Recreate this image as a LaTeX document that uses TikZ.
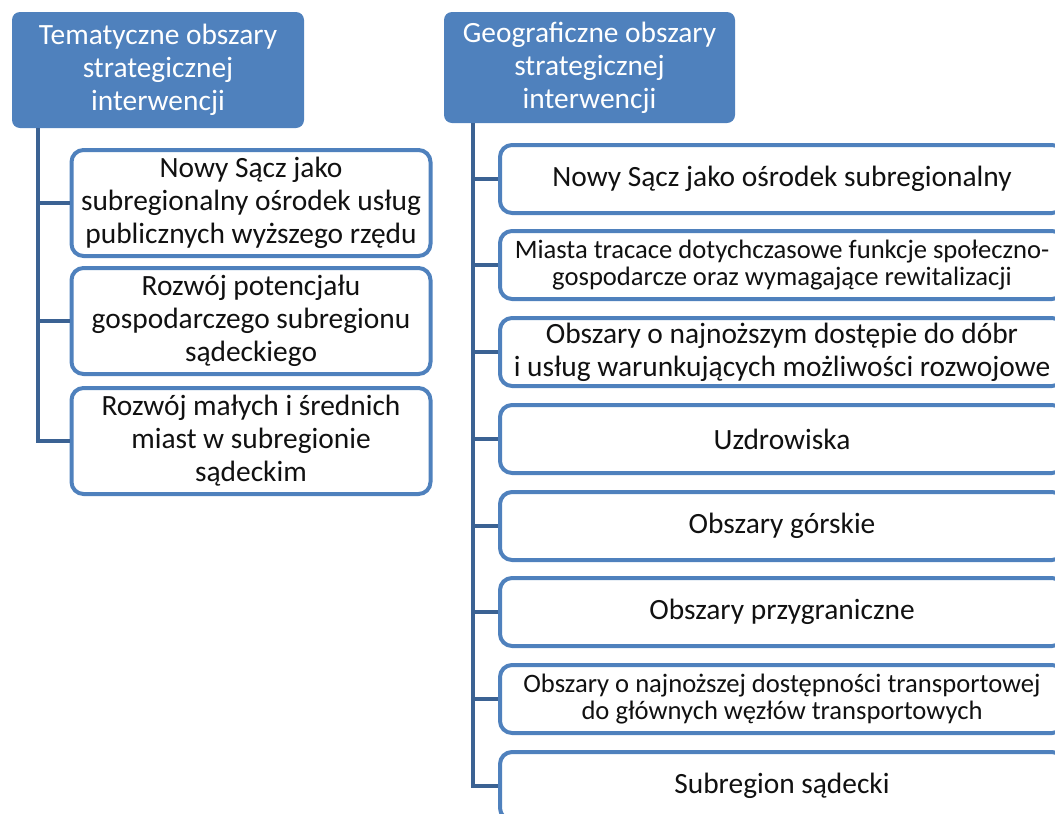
\documentclass[tikz,border=0pt]{standalone}
\usepackage{fontspec}
\setmainfont{Carlito}
\usepackage{tikz}
\usetikzlibrary{positioning,calc}
\definecolor{smblue}{HTML}{4F81BD}
\definecolor{smdark}{HTML}{3B6293}
\definecolor{smtext}{HTML}{111111}

\begin{document}
\begin{tikzpicture}[
  x=0.5pt,y=-0.5pt,
  head/.style={fill=smblue,draw=none,rounded corners=4pt,text=white,align=center,
               font=\fontsize{14.7}{16.5}\selectfont,inner sep=1pt},
  leaf/.style={draw=smblue,line width=2pt,fill=white,rounded corners=6pt,align=center,
               text=smtext,font=\fontsize{14.7}{16.5}\selectfont,inner sep=1pt},
  small/.style={font=\fontsize{13.3}{13.5}\selectfont},
  conn/.style={draw=smdark,line width=2pt}
]
\clip (0,0) rectangle (1055,814);

% naglowki
\node[head,minimum width=146pt,minimum height=58pt] (tem) at (158,70)
  {Tematyczne obszary\\strategicznej\\interwencji};
\node[head,minimum width=145.5pt,minimum height=55.5pt] (geo) at (589.5,67.5)
  {Geograficzne obszary\\strategicznej\\interwencji};

% obszary tematyczne
\node[leaf,minimum width=179.5pt,minimum height=53pt] (t1) at (251,203)
  {Nowy Sącz jako\\subregionalny ośrodek usług\\publicznych wyższego rzędu};
\node[leaf,minimum width=179.5pt,minimum height=53pt] (t2) at (251,321)
  {Rozwój potencjału\\gospodarczego subregionu\\sądeckiego};
\node[leaf,minimum width=179.5pt,minimum height=53pt] (t3) at (251,441)
  {Rozwój małych i średnich\\miast w subregionie\\sądeckim};

% obszary geograficzne
\node[leaf,minimum width=282pt,minimum height=34pt] (g1) at (782,179)
  {Nowy Sącz jako ośrodek subregionalny};
\node[leaf,small,minimum width=282pt,minimum height=34pt] (g2) at (782,265)
  {Miasta tracace dotychczasowe funkcje społeczno-\\gospodarcze oraz wymagające rewitalizacji};
\node[leaf,minimum width=282pt,minimum height=34pt] (g3) at (782,352)
  {Obszary o najnoższym dostępie do dóbr\\i usług warunkujących możliwości rozwojowe};
\node[leaf,minimum width=282pt,minimum height=34pt] (g4) at (782,439)
  {Uzdrowiska};
\node[leaf,minimum width=282pt,minimum height=34pt] (g5) at (782,526)
  {Obszary górskie};
\node[leaf,minimum width=282pt,minimum height=34pt] (g6) at (782,612)
  {Obszary przygraniczne};
\node[leaf,small,minimum width=282pt,minimum height=34pt] (g7) at (782,699)
  {Obszary o najnoższej dostępności transportowej\\do głównych węzłów transportowych};
\node[leaf,minimum width=282pt,minimum height=34pt] (g8) at (782,786)
  {Subregion sądecki};

% polaczenia
\foreach \t in {t1,t2,t3}
  \draw[conn] (tem.south west) ++(26,0) |- (\t.west);
\foreach \g in {g1,g2,g3,g4,g5,g6,g7,g8}
  \draw[conn] (geo.south west) ++(29,0) |- (\g.west);
\end{tikzpicture}
\end{document}
